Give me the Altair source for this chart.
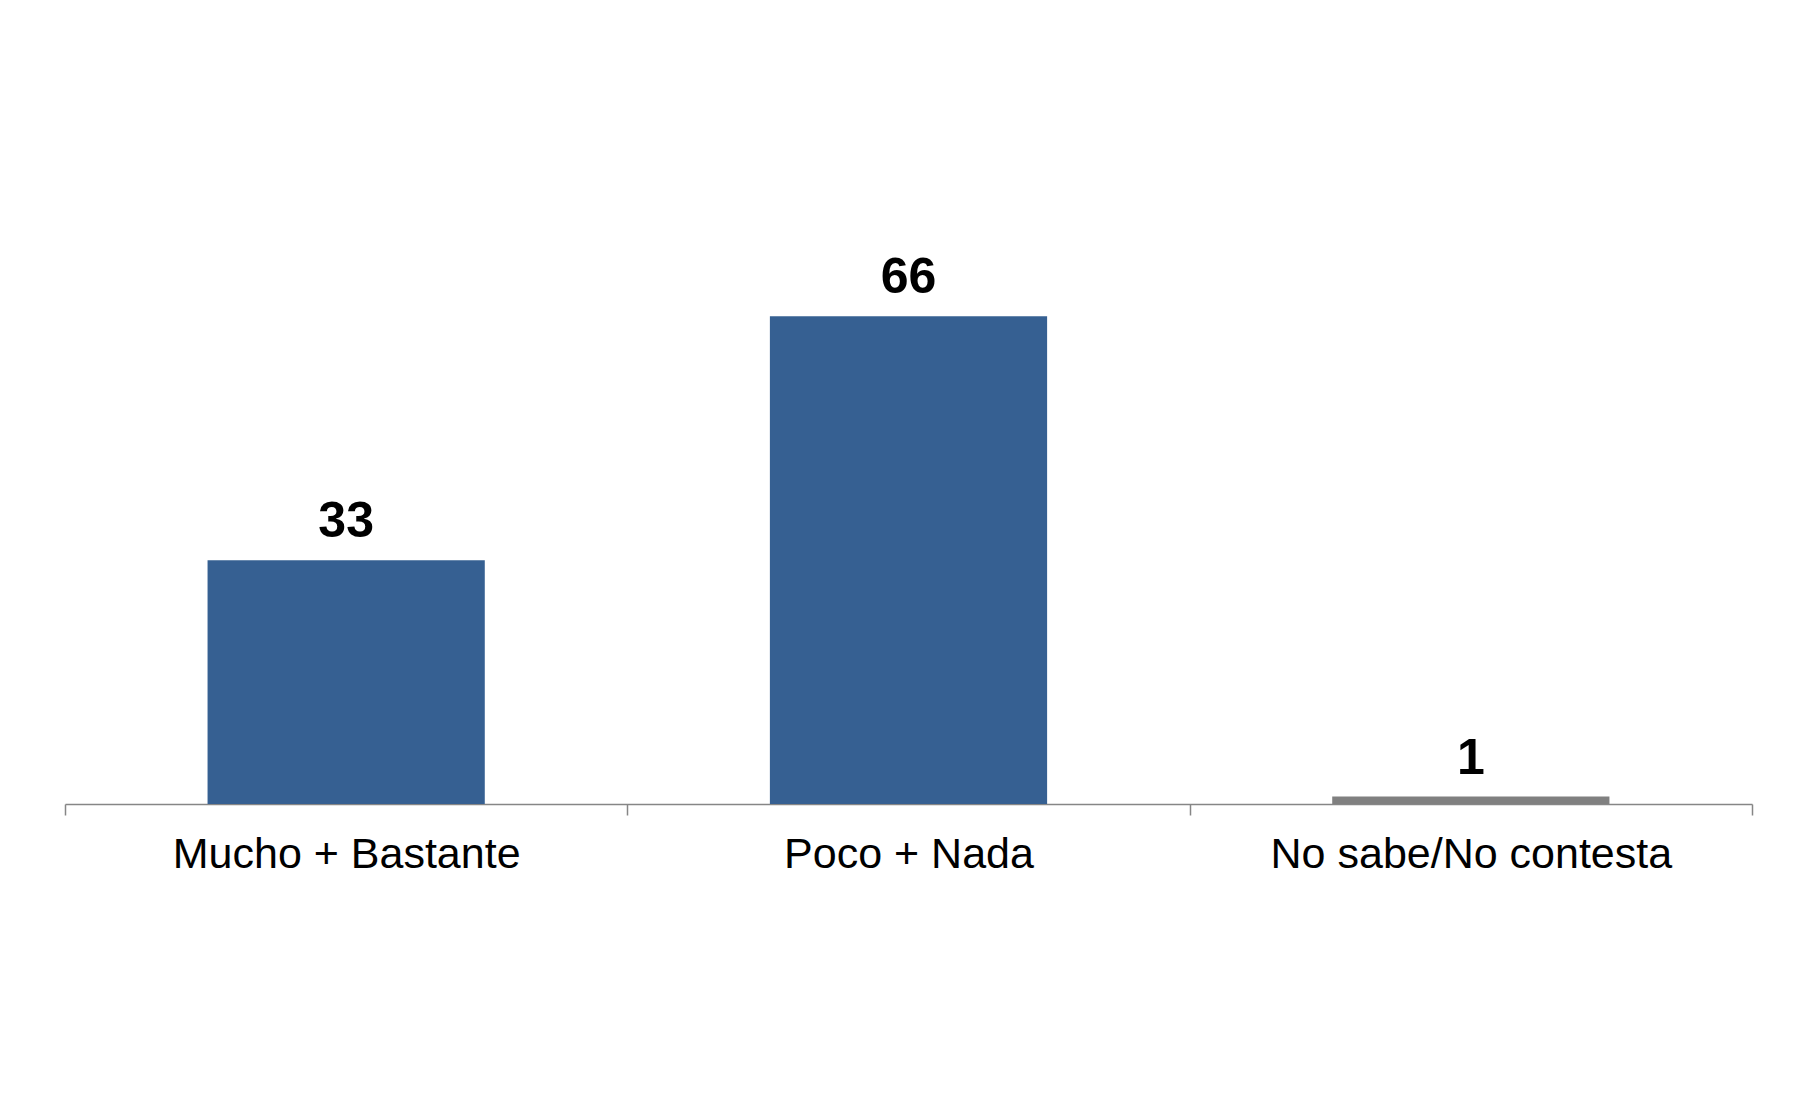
import altair as alt
import pandas as pd

categories = ["Mucho + Bastante", "Poco + Nada", "No sabe/No contesta"]
values = [33, 66, 1]
colors = ["#366092", "#366092", "#808080"]

df = pd.DataFrame({"cat": categories, "val": values, "color": colors})

x = alt.X("cat:N", sort=categories, title=None,
          scale=alt.Scale(paddingInner=0, paddingOuter=0),
          axis=alt.Axis(labelAngle=0, labelFontSize=43, labelFont="Liberation Sans",
                        labelColor="#000000", labelPadding=18, tickBand="extent",
                        tickSize=11, tickColor="#868686", domainColor="#868686",
                        domainWidth=1.5, tickWidth=1.5, labelLimit=600))
y = alt.Y("val:Q", scale=alt.Scale(domain=[0, 100], nice=False), axis=None)

bars = alt.Chart(df).mark_bar(width=alt.RelativeBandSize(0.493)).encode(
    x=x, y=y, color=alt.Color("color:N", scale=None)
)
text = alt.Chart(df).mark_text(dy=-23, baseline="alphabetic", fontSize=50,
                               fontWeight="bold", font="Liberation Sans",
                               color="#000000").encode(
    x=alt.X("cat:N", sort=categories), y=y, text=alt.Text("val:Q")
)

chart = alt.layer(bars, text).properties(
    width=1687, height=739,
    autosize=alt.AutoSizeParams(type="none"),
    padding={"left": 57, "top": 57, "right": 30, "bottom": 270},
    background="#ffffff",
).configure_view(stroke=None)

chart.save("out.html", embed_options={"renderer": "svg", "actions": False})
